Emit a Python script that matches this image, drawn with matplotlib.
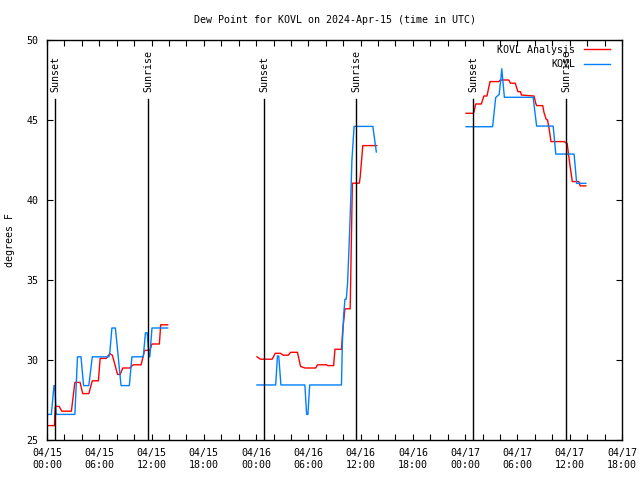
from datetime import datetime, timedelta

import matplotlib
matplotlib.use("Agg")
import matplotlib.pyplot as plt
import matplotlib.dates as mdates

# ---------- Data (hours after 2024-04-15 00:00 UTC, deg F) ----------
BASE = datetime(2024, 4, 15, 0, 0)

# KOVL Analysis (red)
ana_hours = [
    0.1, 0.85, 0.95, 1.4, 1.7, 2.8, 3.2, 3.8, 4.1, 4.8, 5.2, 5.9, 6.1, 6.8,
    7.2, 7.5, 8.1, 8.4, 8.7, 9.5, 9.9, 10.8, 11.2, 11.8, 12.05, 12.9, 13.05, 13.85,
    None,
    24.1, 24.5, 25.85, 26.2, 26.8, 27.1, 27.7, 27.95, 28.75, 29.1, 29.6, 30.85,
    31.05, 32.1, 32.2, 32.9, 33.05, 33.8, 33.95, 34.2, 34.8, 35.05, 35.85, 35.95,
    36.25, 37.85,
    None,
    48.1, 48.95, 49.05, 49.2, 49.85, 50.15, 50.5, 50.85, 51.85, 52.05, 53.0,
    53.2, 53.75, 54.05, 54.35, 54.45, 55.9, 56.1, 56.2, 56.9, 57.05, 57.3, 57.45,
    57.65, 57.85, 59.35, 59.7, 60.05, 60.3, 61.05, 61.2, 61.85,
]
ana_dewpt = [
    25.9, 25.9, 27.1, 27.1, 26.8, 26.8, 28.6, 28.6, 27.9, 27.9, 28.7, 28.7, 30.1, 30.1,
    30.4, 30.3, 29.1, 29.1, 29.5, 29.5, 29.7, 29.7, 30.6, 30.6, 31.0, 31.0, 32.2, 32.2,
    None,
    30.2, 30.05, 30.05, 30.42, 30.42, 30.3, 30.3, 30.48, 30.48, 29.6, 29.5, 29.5,
    29.7, 29.7, 29.65, 29.65, 30.67, 30.67, 31.9, 33.2, 33.2, 41.05, 41.05, 41.45,
    43.4, 43.4,
    None,
    45.42, 45.42, 45.6, 46.0, 46.0, 46.5, 46.5, 47.4, 47.4, 47.5, 47.5,
    47.3, 47.3, 46.77, 46.77, 46.56, 46.5, 46.04, 45.9, 45.9, 45.46, 45.04, 45.0,
    44.4, 43.65, 43.65, 43.54, 42.08, 41.15, 41.15, 40.88, 40.88,
]

# KOVL observations (blue)
obs_hours = [
    0.1, 0.5, 0.8, 0.9, 1.05, 3.2, 3.5, 3.9, 4.2, 4.8, 5.2, 7.1, 7.2, 7.45, 7.85,
    8.5, 9.45, 9.75, 11.05, 11.3, 11.5, 11.7, 11.8, 12.05, 13.85,
    None,
    24.1, 26.25, 26.45, 26.6, 26.85, 29.6, 29.8, 29.95, 30.15, 33.8, 33.9, 34.05,
    34.2, 34.35, 34.5, 34.7, 34.85, 35.0, 35.25, 37.4, 37.8,
    None,
    48.1, 51.15, 51.5, 51.9, 52.1, 52.2, 52.3, 52.5, 55.8, 56.2, 58.1, 58.4,
    60.5, 60.8, 61.85,
]
obs_dewpt = [
    26.6, 26.6, 28.4, 28.4, 26.6, 26.6, 30.2, 30.2, 28.4, 28.4, 30.2, 30.2, 30.4, 32.0, 32.0,
    28.4, 28.4, 30.2, 30.2, 31.7, 31.7, 30.2, 30.2, 32.0, 32.0,
    None,
    28.44, 28.44, 30.25, 30.25, 28.44, 28.44, 26.6, 26.6, 28.44, 28.44, 31.0, 32.8,
    33.8, 33.8, 34.8, 37.5, 39.8, 42.5, 44.6, 44.6, 43.0,
    None,
    44.58, 44.58, 46.4, 46.6, 47.6, 48.2, 47.6, 46.42, 46.42, 44.62, 44.62, 42.87,
    42.87, 41.04, 41.04,
]

sunset_hours = [0.92, 24.9, 48.9]
sunrise_hours = [11.6, 35.5, 59.6]

TITLE = "Dew Point for KOVL on 2024-Apr-15 (time in UTC)"
FONT = "DejaVu Sans Mono"
FS = 7.2


def to_times(hours):
    return [BASE + timedelta(hours=h) if h is not None else None for h in hours]


def split_segments(times, values):
    """Breaks a list with None gaps into separate runs."""
    segs, cur_t, cur_v = [], [], []
    for t, v in zip(times, values):
        if t is None:
            segs.append((cur_t, cur_v))
            cur_t, cur_v = [], []
        else:
            cur_t.append(t)
            cur_v.append(v)
    segs.append((cur_t, cur_v))
    return segs


plt.rcParams["font.family"] = FONT
plt.rcParams["font.size"] = FS

fig = plt.figure(figsize=(6.4, 4.8), dpi=100)
ax = fig.add_axes([47 / 640, 40 / 480, 575 / 640, 400 / 480])

for i, (t, v) in enumerate(split_segments(to_times(ana_hours), ana_dewpt)):
    ax.plot(t, v, color="#ff0000", lw=1.0, label="KOVL Analysis" if i == 0 else None)
for i, (t, v) in enumerate(split_segments(to_times(obs_hours), obs_dewpt)):
    ax.plot(t, v, color="#0080ff", lw=1.0, label="KOVL" if i == 0 else None)

# sunset / sunrise markers
for name, hrs in (("Sunset", sunset_hours), ("Sunrise", sunrise_hours)):
    for t in to_times(hrs):
        ax.plot([t, t], [25, 46.3], color="black", lw=1.0)
        ax.text(t, 46.75, name, rotation=90, ha="center", va="bottom", fontsize=FS)

ax.set_xlim(BASE, BASE + timedelta(hours=66))
ax.set_ylim(25, 50)
ax.set_yticks([25, 30, 35, 40, 45, 50])

ax.xaxis.set_major_locator(mdates.HourLocator(byhour=[0, 6, 12, 18]))
ax.xaxis.set_major_formatter(mdates.DateFormatter("%m/%d\n%H:%M"))
ax.xaxis.set_minor_locator(mdates.HourLocator(byhour=range(0, 24, 2)))

ax.tick_params(which="both", direction="in", top=True, right=True,
               length=4, width=0.8, labelsize=FS, pad=6)
for s in ax.spines.values():
    s.set_linewidth(1.0)

ax.set_title(TITLE, fontsize=FS, pad=12)
ax.set_ylabel("degrees F", fontsize=FS)
ax.yaxis.set_label_coords(-32 / 575, 0.5)

ax.legend(loc="upper right", bbox_to_anchor=(1 - 7 / 575, 1.0),
          frameon=False, markerfirst=False, fontsize=FS,
          handlelength=2.6, handletextpad=0.9, labelspacing=0.45,
          borderaxespad=0.1)

fig.savefig("out.png", dpi=100)
